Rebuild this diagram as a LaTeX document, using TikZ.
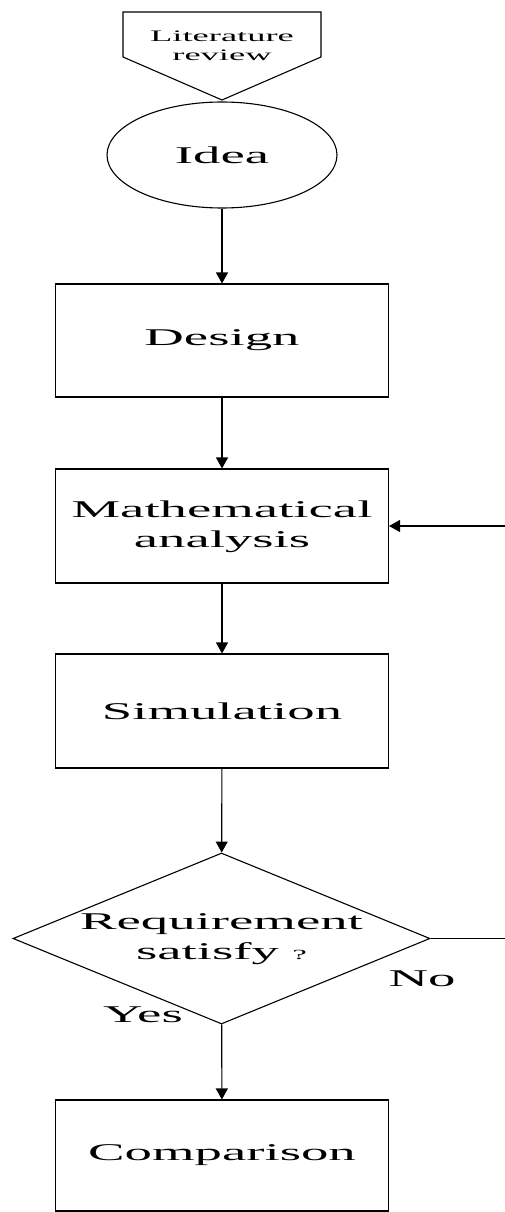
\documentclass[tikz,border=0pt]{standalone}
\usepackage{fontspec}
\setmainfont{Liberation Serif}
\usetikzlibrary{arrows.meta,shapes.geometric}
\newcommand{\wide}[1]{\scalebox{2.28}[1]{#1}}
\newcommand{\twol}[2]{\wide{\begin{tabular}{@{}c@{}}#1\\#2\end{tabular}}}
\begin{document}
\begin{tikzpicture}[x=1pt,y=-1pt,line width=1.1pt,
  txt/.style={inner sep=0pt,font=\fontsize{24}{30}\selectfont},
  box/.style={draw,rectangle,minimum width=333pt,minimum height=113pt,inner sep=0pt,font=\fontsize{24}{30}\selectfont},
  conn/.style={-{Triangle[width=12pt,length=11pt]}}]
\useasboundingbox (0,0) rectangle (505,1212);
% literature review pentagon
\draw (123,12) -- (321,12) -- (321,57) -- (222,100) -- (123,57) -- cycle;
\node[inner sep=0pt,font=\fontsize{16}{19}\selectfont] (lit) at (222,47) {\twol{Literature}{review}};
% nodes
\node[draw,ellipse,minimum width=230pt,minimum height=106pt,inner sep=0pt,font=\fontsize{24}{30}\selectfont] (idea) at (222,155) {\wide{Idea}};
\node[box] (design) at (222,340.5) {\wide{Design}};
\node[box,minimum height=114pt] (math) at (222,526) {\twol{Mathematical}{analysis}};
\node[box,minimum height=114pt] (sim) at (222,711) {\wide{Simulation}};
\node[draw,diamond,minimum width=417pt,minimum height=171pt,inner sep=0pt,
  label={[txt]center:\twol{Requirement}{satisfy {\fontsize{14}{14}\selectfont ?}}}] (dec) at (221.5,938.5) {};
\node[box,minimum height=111pt] (comp) at (222,1155.5) {\wide{Comparison}};
\node[txt] (no) at (422,979) {\wide{No}};
\node[txt] (yes) at (143,1015) {\wide{Yes}};
\coordinate (noend) at (505,938.5);
\coordinate (fb) at (505,526);
% connectors
\draw[conn] (idea) -- (design);
\draw[conn] (design) -- (math);
\draw[conn] (math) -- (sim);
\draw[conn] (sim) -- (dec);
\draw[conn] (dec) -- (comp);
\draw (dec.east) -- (noend);
\draw[conn] (fb) -- (math.east);
\end{tikzpicture}
\end{document}
